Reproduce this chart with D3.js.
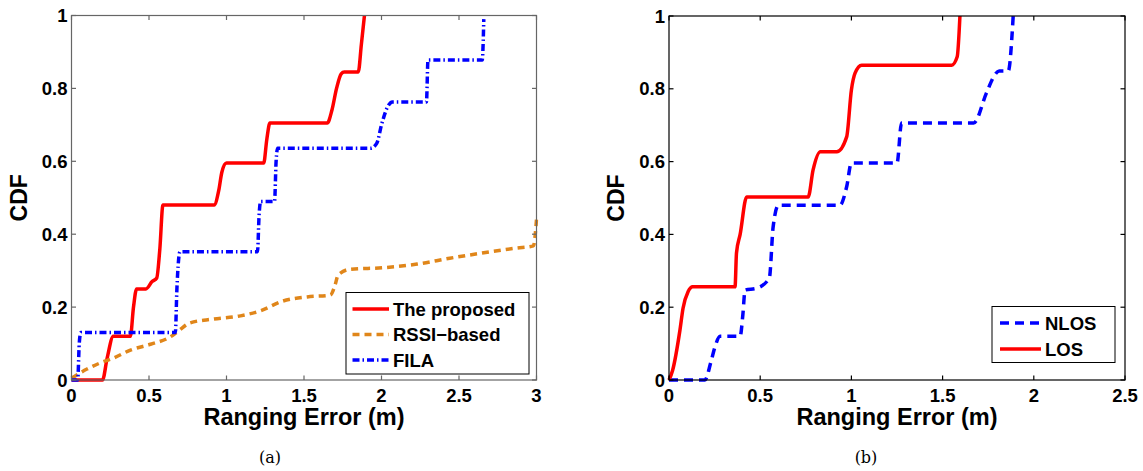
<!DOCTYPE html>
<html>
<head>
<meta charset="utf-8">
<script src="https://cdn.jsdelivr.net/npm/d3@7"></script>
<style>
  body { margin: 0; background: #fff; }
  svg text { font-family: "Liberation Sans", Arial, sans-serif; font-weight: bold; }
  svg text.caption { font-family: "DejaVu Serif", "Liberation Serif", serif; font-weight: normal; }
</style>
</head>
<body>
<script>
// panel (a): ranging error CDF of three methods
const proposedA = [
  [0, 0], [0.2, 0], [0.23, 0.06], [0.27, 0.12], [0.38, 0.12], [0.4, 0.2], [0.42, 0.25],
  [0.48, 0.25], [0.52, 0.27], [0.55, 0.28], [0.57, 0.36], [0.59, 0.48], [0.92, 0.48],
  [0.95, 0.52], [0.97, 0.57], [1.0, 0.595], [1.24, 0.595], [1.26, 0.66], [1.28, 0.705],
  [1.65, 0.705], [1.68, 0.74], [1.71, 0.8], [1.74, 0.84], [1.76, 0.845], [1.85, 0.845],
  [1.87, 0.92], [1.89, 1.0]
];
const rssiA = [
  [0, 0.005], [0.1, 0.03], [0.18, 0.046], [0.27, 0.06], [0.38, 0.082], [0.51, 0.098],
  [0.64, 0.119], [0.7, 0.138], [0.76, 0.156], [0.91, 0.167], [1.09, 0.176], [1.22, 0.19],
  [1.36, 0.216], [1.52, 0.228], [1.67, 0.233], [1.7, 0.26], [1.72, 0.288], [1.8, 0.304],
  [2.01, 0.308], [2.23, 0.318], [2.44, 0.334], [2.66, 0.349], [2.87, 0.362], [2.98, 0.368],
  [3.0, 0.44]
];
const filaA = [
  [0, 0], [0.04, 0], [0.05, 0.1], [0.06, 0.13], [0.67, 0.13], [0.68, 0.25], [0.7, 0.352],
  [1.2, 0.352], [1.21, 0.45], [1.22, 0.49], [1.31, 0.49], [1.32, 0.6], [1.33, 0.636],
  [1.93, 0.636], [1.97, 0.65], [2.0, 0.7], [2.04, 0.75], [2.07, 0.763], [2.29, 0.763],
  [2.3, 0.878], [2.65, 0.878], [2.66, 0.99]
];

// panel (b): NLOS vs LOS
const nlosB = [
  [0, 0], [0.197, 0], [0.23, 0.05], [0.252, 0.091], [0.28, 0.12], [0.39, 0.12], [0.405, 0.18],
  [0.417, 0.247], [0.48, 0.252], [0.55, 0.28], [0.571, 0.421], [0.6, 0.48], [0.937, 0.48],
  [0.974, 0.531], [1.0, 0.596], [1.25, 0.596], [1.275, 0.706], [1.67, 0.706], [1.74, 0.788],
  [1.78, 0.833], [1.81, 0.849], [1.86, 0.849], [1.887, 1.0]
];
const losB = [
  [0, 0], [0.02, 0.027], [0.06, 0.137], [0.077, 0.197], [0.105, 0.243], [0.13, 0.256],
  [0.362, 0.256], [0.37, 0.349], [0.39, 0.4], [0.426, 0.503], [0.763, 0.503], [0.79, 0.577],
  [0.83, 0.627], [0.92, 0.627], [0.974, 0.668], [1.0, 0.797], [1.02, 0.843], [1.056, 0.865],
  [1.55, 0.865], [1.58, 0.888], [1.595, 1.0]
];

const xTicksA = [0, 0.5, 1, 1.5, 2, 2.5, 3];
const xTicksB = [0, 0.5, 1, 1.5, 2, 2.5];
const yTicks = [0, 0.2, 0.4, 0.6, 0.8, 1];

const svg = d3.select("body").append("svg")
    .attr("width", 1143)
    .attr("height", 471);

drawPanel({
  box: {left: 71.5, right: 536.5, top: 15.5, bottom: 380},
  xMax: 3, xTicks: xTicksA, axisColor: "#666",
  series: [
    {name: "The proposed", data: proposedA, color: "#ff0000", dash: null},
    {name: "RSSI\u2212based", data: rssiA, color: "#e0861a", dash: "7,5"},
    {name: "FILA", data: filaA, color: "#0000ff", dash: "7,3,1.5,3"}
  ],
  legend: {x: 346, y: 292.5, w: 183, h: 81.5, lineX0: 352.5, lineX1: 389, textX: 393, rows: [315.5, 341, 366.5]},
  caption: {x: 270, text: "(a)"}
});

drawPanel({
  box: {left: 669, right: 1125, top: 16, bottom: 380},
  xMax: 2.5, xTicks: xTicksB, axisColor: "#000",
  series: [
    {name: "NLOS", data: nlosB, color: "#0000ff", dash: "9,6"},
    {name: "LOS", data: losB, color: "#ff0000", dash: null}
  ],
  legend: {x: 992, y: 306.5, w: 123, h: 56, lineX0: 1000, lineX1: 1041, textX: 1045, rows: [329.5, 355.5]},
  caption: {x: 866, text: "(b)"}
});

function drawPanel (cfg) {
  const {box} = cfg;
  const x = d3.scaleLinear().domain([0, cfg.xMax]).range([box.left, box.right]);
  const y = d3.scaleLinear().domain([0, 1]).range([box.bottom, box.top]);
  const g = svg.append("g");

  // lines (clipped to the axes box)
  const clipId = "clip" + Math.round(box.left);
  g.append("clipPath").attr("id", clipId)
    .append("rect")
    .attr("x", box.left - 2).attr("y", box.top - 2)
    .attr("width", box.right - box.left + 4).attr("height", box.bottom - box.top + 4);

  const line = d3.line().x(d => x(d[0])).y(d => y(d[1])).curve(d3.curveMonotoneX);

  g.append("g").attr("clip-path", `url(#${clipId})`)
    .selectAll("path")
    .data(cfg.series).enter()
    .append("path")
    .attr("d", s => line(s.data))
    .attr("fill", "none")
    .attr("stroke", s => s.color)
    .attr("stroke-width", 3.5)
    .attr("stroke-linejoin", "round")
    .attr("stroke-dasharray", s => s.dash);

  // axes, MATLAB style box with inward ticks on all sides
  const tick = 4.5;
  const ax = g.append("g")
      .attr("stroke", cfg.axisColor)
      .attr("stroke-width", 1.2);
  ax.append("rect")
    .attr("x", box.left).attr("y", box.top)
    .attr("width", box.right - box.left).attr("height", box.bottom - box.top)
    .attr("fill", "none");
  cfg.xTicks.forEach(t => {
    ax.append("line").attr("x1", x(t)).attr("x2", x(t)).attr("y1", box.bottom).attr("y2", box.bottom - tick);
    ax.append("line").attr("x1", x(t)).attr("x2", x(t)).attr("y1", box.top).attr("y2", box.top + tick);
  });
  yTicks.forEach(t => {
    ax.append("line").attr("y1", y(t)).attr("y2", y(t)).attr("x1", box.left).attr("x2", box.left + tick);
    ax.append("line").attr("y1", y(t)).attr("y2", y(t)).attr("x1", box.right).attr("x2", box.right - tick);
  });

  g.selectAll(".xt")
      .data(cfg.xTicks).enter()
    .append("text")
    .attr("x", x)
    .attr("y", box.bottom + 22)
    .attr("text-anchor", "middle")
    .attr("font-size", 18.5)
    .text(d => d);

  g.selectAll(".yt")
      .data(yTicks).enter()
    .append("text")
    .attr("x", box.left - 4)
    .attr("y", d => y(d) + 6.5)
    .attr("text-anchor", "end")
    .attr("font-size", 18.5)
    .text(d => d);

  g.append("text")
    .attr("transform", `translate(${box.left - 45},${(box.top + box.bottom) / 2}) rotate(-90)`)
    .attr("text-anchor", "middle")
    .attr("font-size", 23)
    .text("CDF");

  g.append("text")
    .attr("x", (box.left + box.right) / 2)
    .attr("y", 425)
    .attr("text-anchor", "middle")
    .attr("font-size", 23.5)
    .text("Ranging Error (m)");

  // legend
  const lg = cfg.legend;
  g.append("rect")
    .attr("x", lg.x).attr("y", lg.y).attr("width", lg.w).attr("height", lg.h)
    .attr("fill", "#fff").attr("stroke", "#000").attr("stroke-width", 1);
  cfg.series.forEach((s, i) => {
    g.append("line")
      .attr("x1", lg.lineX0).attr("x2", lg.lineX1)
      .attr("y1", lg.rows[i] - 6.5).attr("y2", lg.rows[i] - 6.5)
      .attr("stroke", s.color).attr("stroke-width", 3.5)
      .attr("stroke-dasharray", s.dash);
    g.append("text")
      .attr("x", lg.textX).attr("y", lg.rows[i])
      .attr("font-size", 18.5)
      .text(s.name);
  });

  g.append("text")
    .attr("class", "caption")
    .attr("x", cfg.caption.x).attr("y", 463)
    .attr("text-anchor", "middle")
    .attr("font-size", 16)
    .text(cfg.caption.text);
}
</script>
</body>
</html>
